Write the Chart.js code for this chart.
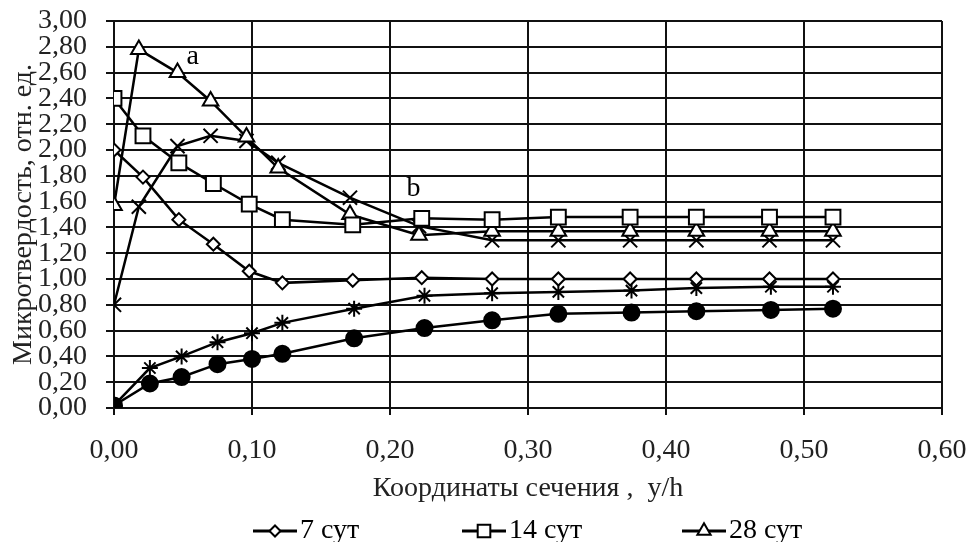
<!DOCTYPE html>
<html>
<head>
<meta charset="utf-8">
<script src="https://cdn.jsdelivr.net/npm/chart.js@4"></script>
<style>
  html, body { margin: 0; padding: 0; background: #fff; }
</style>
</head>
<body>
<canvas id="myChart" width="972" height="542"></canvas>
<script>
// x coordinates (y/h) of the measuring points
const xA = [0, 0.021, 0.047, 0.072, 0.098, 0.122, 0.173, 0.223, 0.274, 0.322, 0.374, 0.422, 0.475, 0.521];
const xB = [0, 0.018, 0.046, 0.070, 0.096, 0.119, 0.171, 0.221, 0.274, 0.322, 0.374, 0.422, 0.475, 0.521];
const xC = [0, 0.026, 0.049, 0.075, 0.100, 0.122, 0.174, 0.225, 0.274, 0.322, 0.375, 0.422, 0.476, 0.521];

// microhardness values
const day7 = [2.00, 1.79, 1.46, 1.27, 1.06, 0.97, 0.99, 1.01, 1.00, 1.00, 1.00, 1.00, 1.00, 1.00];
const day14 = [2.40, 2.11, 1.90, 1.74, 1.58, 1.46, 1.42, 1.47, 1.46, 1.48, 1.48, 1.48, 1.48, 1.48];
const day28 = [1.57, 2.78, 2.60, 2.38, 2.10, 1.86, 1.50, 1.34, 1.37, 1.37, 1.37, 1.37, 1.37, 1.37];
const seriesX = [0.80, 1.56, 2.03, 2.11, 2.07, 1.90, 1.63, 1.41, 1.30, 1.30, 1.30, 1.30, 1.30, 1.30];
const seriesStar = [0.02, 0.31, 0.40, 0.51, 0.58, 0.66, 0.77, 0.87, 0.89, 0.90, 0.91, 0.93, 0.94, 0.94];
const seriesDot = [0.02, 0.19, 0.24, 0.34, 0.38, 0.42, 0.54, 0.62, 0.68, 0.73, 0.74, 0.75, 0.76, 0.77];

const legendLabels = ["7 сут", "14 сут", "28 сут"];
const noteLabels = ["a", "b"];

const FONT = "'Liberation Serif', 'Times New Roman', serif";

// pair x and y arrays into points
const pts = (xs, ys) => xs.map((x, i) => ({ x: x, y: ys[i] }));

const mk = (label, data, style, radius, fill) => ({
  label: label,
  data: data,
  showLine: true,
  borderColor: "#000",
  borderWidth: 2.5,
  pointStyle: style,
  pointRadius: radius,
  pointHoverRadius: radius,
  pointBorderWidth: 2,
  pointBorderColor: "#000",
  pointBackgroundColor: fill,
  tension: 0,
});

const datasets = [
  mk(legendLabels[0], pts(xA, day7), "rectRot", 6.5, "#fff"),
  mk(legendLabels[1], pts(xA, day14), "rect", 10.5, "#fff"),
  mk(legendLabels[2], pts(xB, day28), "triangle", 9, "#fff"),
  mk("x", pts(xB, seriesX), "crossRot", 10, "#000"),
  mk("star", pts(xC, seriesStar), "star", 8, "#000"),
  mk("dot", pts(xC, seriesDot), "circle", 8, "#000"),
];

// text notes and the bottom legend (line + marker + label)
const extras = {
  id: "extras",
  afterDraw(chart) {
    const c = chart.ctx;
    const sx = chart.scales.x;
    const sy = chart.scales.y;
    c.save();
    c.fillStyle = "#000";
    c.font = "28px " + FONT;
    c.textAlign = "center";
    c.textBaseline = "middle";
    const notePos = [[0.057, 2.72], [0.217, 1.70]];
    noteLabels.forEach((t, i) => {
      c.fillText(t, sx.getPixelForValue(notePos[i][0]), sy.getPixelForValue(notePos[i][1]));
    });

    const starts = [253, 462, 682];
    const ly = 531;
    legendLabels.forEach((t, i) => {
      const ds = chart.data.datasets[i];
      const x0 = starts[i];
      c.strokeStyle = "#000";
      c.lineWidth = 3;
      c.beginPath();
      c.moveTo(x0, ly);
      c.lineTo(x0 + 44, ly);
      c.stroke();
      c.fillStyle = "#fff";
      c.lineWidth = 2;
      Chart.helpers.drawPoint(c, {
        pointStyle: ds.pointStyle,
        radius: ds.pointRadius * 0.85,
        rotation: 0,
        borderWidth: 2,
      }, x0 + 22, ly);
      c.fillStyle = "#000";
      c.textAlign = "left";
      c.fillText(t, x0 + 47, ly);
    });
    c.restore();
  },
};

const ctx = document.getElementById("myChart").getContext("2d");

var myChart = new Chart(ctx, {
  type: "scatter",
  data: { datasets: datasets },
  plugins: [extras],
  options: {
    responsive: false,
    animation: false,
    devicePixelRatio: 1,
    layout: {
      padding: { left: 10, right: 30, top: 4, bottom: 38 },
    },
    plugins: {
      legend: { display: false },
      tooltip: { enabled: false },
    },
    scales: {
      x: {
        type: "linear",
        min: 0,
        max: 0.6,
        afterFit: (s) => { s.height = 96; s.paddingRight = 20; s.paddingLeft = 20; },
        border: { color: "#111", width: 2 },
        grid: { color: "#111", lineWidth: 2, tickLength: 7 },
        ticks: {
          stepSize: 0.1,
          autoSkip: false,
          color: "#222",
          padding: 19,
          font: { family: FONT, size: 28 },
          callback: (v) => v.toFixed(2).replace(".", ","),
        },
        title: {
          display: true,
          text: "Координаты сечения ,  y/h",
          color: "#222",
          padding: { top: 0, bottom: 0 },
          font: { family: FONT, size: 28, lineHeight: 1.1 },
        },
      },
      y: {
        min: 0,
        max: 3,
        afterFit: (s) => { s.width = 104; s.paddingTop = 21; s.paddingBottom = 17; },
        border: { color: "#111", width: 2 },
        grid: { color: "#111", lineWidth: 2, tickLength: 8 },
        ticks: {
          stepSize: 0.2,
          autoSkip: false,
          color: "#222",
          padding: 19,
          font: { family: FONT, size: 28 },
          callback: (v) => v.toFixed(2).replace(".", ","),
        },
        title: {
          display: true,
          text: "Микротвердость, отн. ед.",
          color: "#222",
          padding: { top: 0, bottom: 0 },
          font: { family: FONT, size: 28, lineHeight: 1.0 },
        },
      },
    },
  },
});
</script>
</body>
</html>
